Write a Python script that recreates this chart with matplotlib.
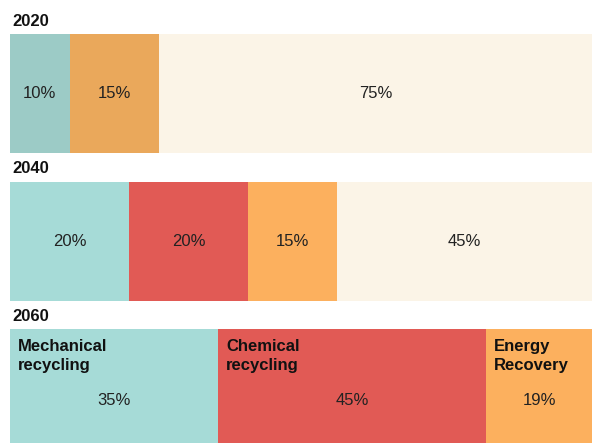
import numpy as np
import matplotlib
matplotlib.use("Agg")
import matplotlib.pyplot as plt

plt.rcParams['font.family'] = ['Liberation Sans', 'DejaVu Sans']

# data
years = ['2020', '2040', '2060']
segments = [
    [10, 15, 75],
    [20, 20, 15, 45],
    [35, 45, 19],
]
colors = [
    ['#9ccbc6', '#eaa85b', '#fbf4e7'],
    ['#a6dbd7', '#e15a55', '#fcb05e', '#fbf4e7'],
    ['#a6dbd7', '#e15a55', '#fcb05e'],
]
names_2060 = ['Mechanical\nrecycling', 'Chemical\nrecycling', 'Energy\nRecovery']

W, H = 592, 443
fig = plt.figure(figsize=(W / 100, H / 100), dpi=100)
ax = fig.add_axes([10 / W, 0, 582 / W, 1])

xmax = 97.8
bar_h = 0.807
ax.set_xlim(0, xmax)
ax.set_ylim(2.369, -0.634)
ax.axis('off')

for i, (vals, cols) in enumerate(zip(segments, colors)):
    left = 0
    for j, (v, c) in enumerate(zip(vals, cols)):
        ax.barh(i, v, left=left, height=bar_h, color=c, linewidth=0)
        # centre the label in the visible part of the segment
        right = min(left + v, xmax)
        cx = (left + right) / 2
        ty = i + 0.08 if i == 2 else i
        ax.text(cx, ty, f'{v}%', ha='center', va='center', fontsize=12, color='#222222')
        if i == 2:
            ax.text(left + 1.3, i - bar_h / 2 + 0.065, names_2060[j], ha='left', va='top',
                    fontsize=12, fontweight='bold', color='#111111', linespacing=1.35)
        left += v
    ax.text(0.4, i - bar_h / 2 - 0.088, years[i], ha='left', va='center', fontsize=12,
            fontweight='bold', color='#111111', clip_on=False)

fig.savefig('out.png', dpi=100)
